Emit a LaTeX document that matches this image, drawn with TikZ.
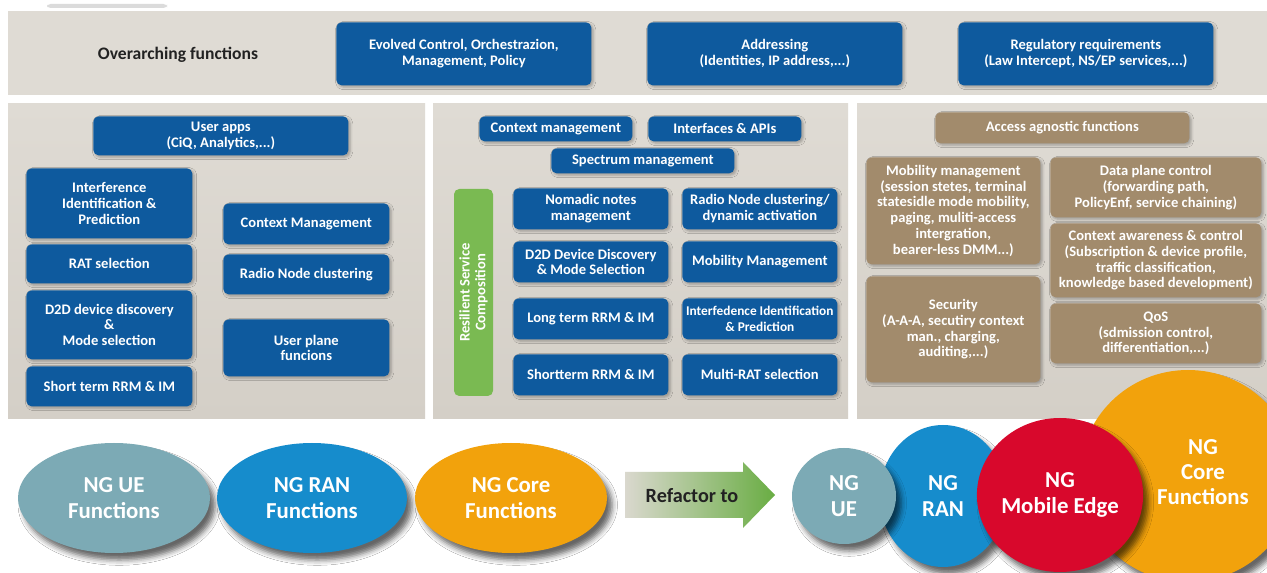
\documentclass[tikz,border=0pt]{standalone}
\usepackage{fontspec}
\setmainfont{Carlito}
\usetikzlibrary{shapes.geometric,shadows.blur}
\definecolor{nblue}{HTML}{0E5A9E}
\definecolor{nbrown}{HTML}{A28B6C}
\definecolor{ngreen}{HTML}{7ABA52}
\definecolor{nteal}{HTML}{7CAAB5}
\definecolor{nran}{HTML}{168CCC}
\definecolor{ncore}{HTML}{F2A20C}
\definecolor{nred}{HTML}{D8082C}
\definecolor{panelhi}{HTML}{DFDBD4}
\definecolor{panello}{HTML}{D4CFC7}
\definecolor{ink}{HTML}{222222}
\definecolor{arrowgray}{HTML}{DAD8CE}
\definecolor{arrowgreen}{HTML}{69AD43}

\begin{document}
\begin{tikzpicture}[x=0.02cm,y=-0.02cm,
  sz/.style 2 args={minimum width=#1*0.02cm,minimum height=#2*0.02cm},
  box/.style={anchor=north west,rounded corners=3pt,align=center,text=white,inner sep=1pt,
    font=\bfseries\fontsize{8.3}{9}\selectfont,
    blur shadow={shadow xshift=1pt,shadow yshift=-1pt,shadow blur radius=1.5pt,shadow opacity=30}},
  bluebox/.style={box,fill=nblue},
  brownbox/.style={box,fill=nbrown},
  blob/.style={ellipse,inner sep=0pt,text=white,align=center,font=\bfseries\fontsize{13}{14.4}\selectfont,
    blur shadow={shadow xshift=3pt,shadow yshift=-4pt,shadow blur radius=3pt,shadow opacity=60}},
  panel/.style={top color=panelhi,bottom color=panello}]
\useasboundingbox (0,0) rectangle (1267,573);
\clip (0,0) rectangle (1267,573);
% background
\fill[white] (0,0) rectangle (1267,573);
\fill[gray!40,rounded corners=2pt,opacity=.7] (47,4) rectangle (167,8);
\fill[panelhi] (8,11) rectangle (1267,95);
\fill[panel] (8,104) rectangle (425,419);
\fill[panel] (433,104) rectangle (848,419);
\fill[panel] (857,104) rectangle (1267,419);

% overarching functions
\node[font=\bfseries\fontsize{10}{12}\selectfont,text=ink] (overarch) at (178,55) {Overarching functions};
\foreach \n/\x/\txt in {evolved/336/{Evolved Control, Orchestrazion,\\Management, Policy},
    addressing/647/{Addressing\\(Identities, IP address,...)},
    regulatory/958/{Regulatory requirements\\(Law Intercept, NS/EP services,...)}}
  \node[bluebox,sz={255}{63}] (\n) at (\x,22) {\txt};

% left panel
\node[bluebox,sz={255}{39}] (userapps) at (93,116) {User apps\\(CiQ, Analytics,...)};
\node[bluebox,sz={166}{70}] (interf) at (26,168) {Interference\\Identification \&\\Prediction};
\node[bluebox,sz={166}{39}] (ratsel) at (26,244) {RAT selection};
\node[bluebox,sz={166}{69}] (d2d) at (26,290) {D2D device discovery\\\&\\Mode selection};
\node[bluebox,sz={166}{40}] (shortterm) at (26,366) {Short term RRM \& IM};
\node[bluebox,sz={166}{41}] (ctxmgmt) at (223,203) {Context Management};
\node[bluebox,sz={166}{40}] (radioclust) at (223,254) {Radio Node clustering};
\node[bluebox,sz={166}{57}] (userplane) at (223,319) {User plane\\funcions};

% middle panel
\node[bluebox,sz={153}{25}] (ctxm) at (479,116) {Context management};
\node[bluebox,sz={153}{25}] (ifapi) at (648,116) {Interfaces \& APIs};
\node[bluebox,sz={183}{25}] (spectrum) at (551,148) {Spectrum management};
\node[fill=ngreen,sz={207}{39},rotate=90,rounded corners=3pt,text=white,align=center,inner sep=1pt,
  font=\bfseries\fontsize{8.3}{9}\selectfont] (resilient) at (473.5,292.5) {Resilient Service\\Composition};
\foreach \n/\x/\y/\txt in {nomadic/513/188/{Nomadic notes\\management},
    rnclust/682/188/{Radio Node clustering/\\dynamic activation},
    d2dsel/513/241/{D2D Device Discovery\\\& Mode Selection},
    mobmgmt/682/241/{Mobility Management},
    longrrm/513/298/{Long term RRM \& IM},
    shortrrm/513/354/{Shortterm RRM \& IM},
    multirat/682/354/{Multi-RAT selection}}
  \node[bluebox,sz={155}{41}] (\n) at (\x,\y) {\txt};
\node[bluebox,sz={155}{41},font=\bfseries\fontsize{7.6}{9}\selectfont] (interfed) at (682,298) {Interfedence Identification\\\& Prediction};

% right panel
\node[brownbox,sz={254}{31}] (agnostic) at (935,112) {Access agnostic functions};
\node[brownbox,sz={174}{107}] (mobility) at (866,157) {Mobility management\\(session stetes, terminal\\statesidle mode mobility,\\paging, muliti-access\\intergration,\\bearer-less DMM...)};
\node[brownbox,sz={174}{106}] (security) at (866,276) {Security\\(A-A-A, secutiry context\\man., charging,\\auditing,...)};
\node[brownbox,sz={211}{60}] (dataplane) at (1050,157) {Data plane control\\(forwarding path,\\PolicyEnf, service chaining)};
\node[brownbox,sz={211}{74}] (ctxaware) at (1050,223) {Context awareness \& control\\(Subscription \&  device profile,\\traffic classification,\\knowledge based development)};
\node[brownbox,sz={211}{60}] (qos) at (1050,303) {QoS\\(sdmission control,\\differentiation,...)};

% today's functions
\node[blob,fill=nteal,sz={192}{110}] (ngueF) at (114,498) {NG UE\\Functions};
\node[blob,fill=nran,sz={190}{110}] (ngranF) at (312,498) {NG RAN\\Functions};
\node[blob,fill=ncore,sz={192}{110}] (ngcoreF) at (511,498) {NG Core\\Functions};

% refactor arrow
\shade[left color=arrowgray,right color=arrowgreen] (625,472) -- (743,472) -- (743,462) -- (775,495)
  -- (743,528) -- (743,518) -- (625,518) -- cycle;
\node[font=\bfseries\fontsize{11.5}{13}\selectfont,text=ink] (refactor) at (692,496) {Refactor to};

% refactored functions
\node[blob,fill=ncore,sz={216}{212}] (ngcore) at (1188,476) {};
\node[blob,fill=nran,sz={127}{142}] (ngran) at (943,496) {NG\\RAN};
\node[blob,fill=nred,sz={164}{154}] (ngedge) at (1060,495) {NG\\Mobile Edge};
\node[blob,fill=nteal,sz={104}{96}] (ngue) at (844,496) {NG\\UE};
\node[text=white,align=center,font=\bfseries\fontsize{13}{14.4}\selectfont] (ngcoretxt) at (1203,472) {NG\\Core\\Functions};
\end{tikzpicture}
\end{document}
